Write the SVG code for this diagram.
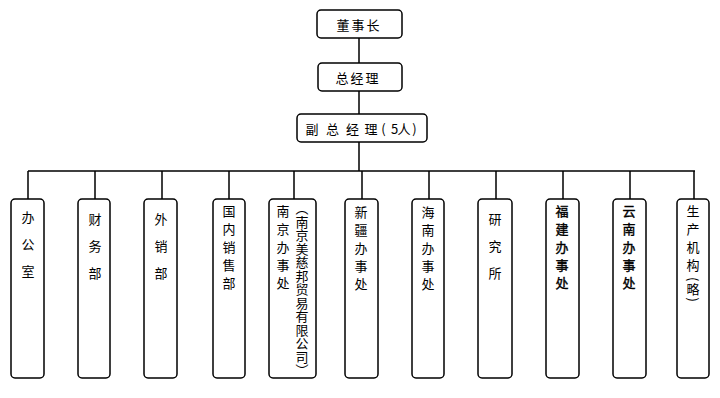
<svg xmlns="http://www.w3.org/2000/svg" width="720" height="398" viewBox="0 0 720 398">
<style>
.box{fill:#fff;stroke:#000;stroke-width:1.5}
.ln{stroke:#000;stroke-width:1.5;fill:none}
.h{font-family:"Noto Sans CJK SC",sans-serif;font-size:13px;fill:#000;text-anchor:middle;dominant-baseline:central;letter-spacing:2px}
.v{font-family:"Noto Sans CJK SC",sans-serif;font-size:13px;fill:#000;writing-mode:vertical-rl;text-anchor:start}
.s5{letter-spacing:5px}
.s14{letter-spacing:14px}
.s1{letter-spacing:0.5px}
.b{stroke:#000;stroke-width:0.4}
</style>
<rect width="720" height="398" fill="#fff"/>
<g id="connectors">
<path class="ln" d="M359 38V63M359 91V114M359 142V171M28 171H695"/>
<path class="ln" d="M28 171V199M95 171V199M162 171V199M229 171V199M294 171V199M362 171V199M429 171V199M496 171V199M563 171V199M630 171V199M694 171V199"/>
</g>
<g id="n-chairman"><rect class="box" x="317" y="10" width="85" height="28" rx="4"/><text class="h" x="359" y="24">董事长</text></g>
<g id="n-gm"><rect class="box" x="318" y="63" width="84" height="28" rx="4"/><text class="h" x="358" y="77">总经理</text></g>
<g id="n-dgm"><rect class="box" x="297" y="114" width="130" height="28" rx="4"/><text class="h" x="312 332.5 352.5 371 383.5 394.5 404 414.5" y="128" style="letter-spacing:0">副总经理(5人)</text></g>
<g id="n1"><rect class="box" x="11" y="199" width="33" height="179" rx="4"/><text class="v s14" x="28" y="211">办公室</text></g>
<g id="n2"><rect class="box" x="78" y="199" width="32" height="179" rx="4"/><text class="v s14" x="95" y="213">财务部</text></g>
<g id="n3"><rect class="box" x="144" y="199" width="33" height="179" rx="4"/><text class="v s14" x="161" y="213">外销部</text></g>
<g id="n4"><rect class="box" x="213" y="199" width="32" height="179" rx="4"/><text class="v s5" x="229" y="205">国内销售部</text></g>
<g id="n5"><rect class="box" x="269" y="199" width="47" height="179" rx="4"/><text class="v s5" x="283" y="205">南京办事处</text><text class="v s1" x="302" y="202">（南京美慈邦贸易有限公司）</text></g>
<g id="n6"><rect class="box" x="345" y="199" width="33" height="179" rx="4"/><text class="v s5" x="361" y="206">新疆办事处</text></g>
<g id="n7"><rect class="box" x="412" y="199" width="32" height="179" rx="4"/><text class="v s5" x="428" y="206">海南办事处</text></g>
<g id="n8"><rect class="box" x="478" y="199" width="34" height="179" rx="4"/><text class="v s14" x="495" y="213">研究所</text></g>
<g id="n9"><rect class="box" x="546" y="199" width="33" height="179" rx="4"/><text class="v s5 b" x="562" y="205">福建办事处</text></g>
<g id="n10"><rect class="box" x="613" y="199" width="33" height="179" rx="4"/><text class="v s5 b" x="629" y="205">云南办事处</text></g>
<g id="n11"><rect class="box" x="677" y="199" width="32" height="179" rx="4"/><text class="v s5" x="693" y="205">生产机构<tspan style="letter-spacing:2px">(</tspan><tspan style="letter-spacing:1px">略</tspan>)</text></g>
</svg>
